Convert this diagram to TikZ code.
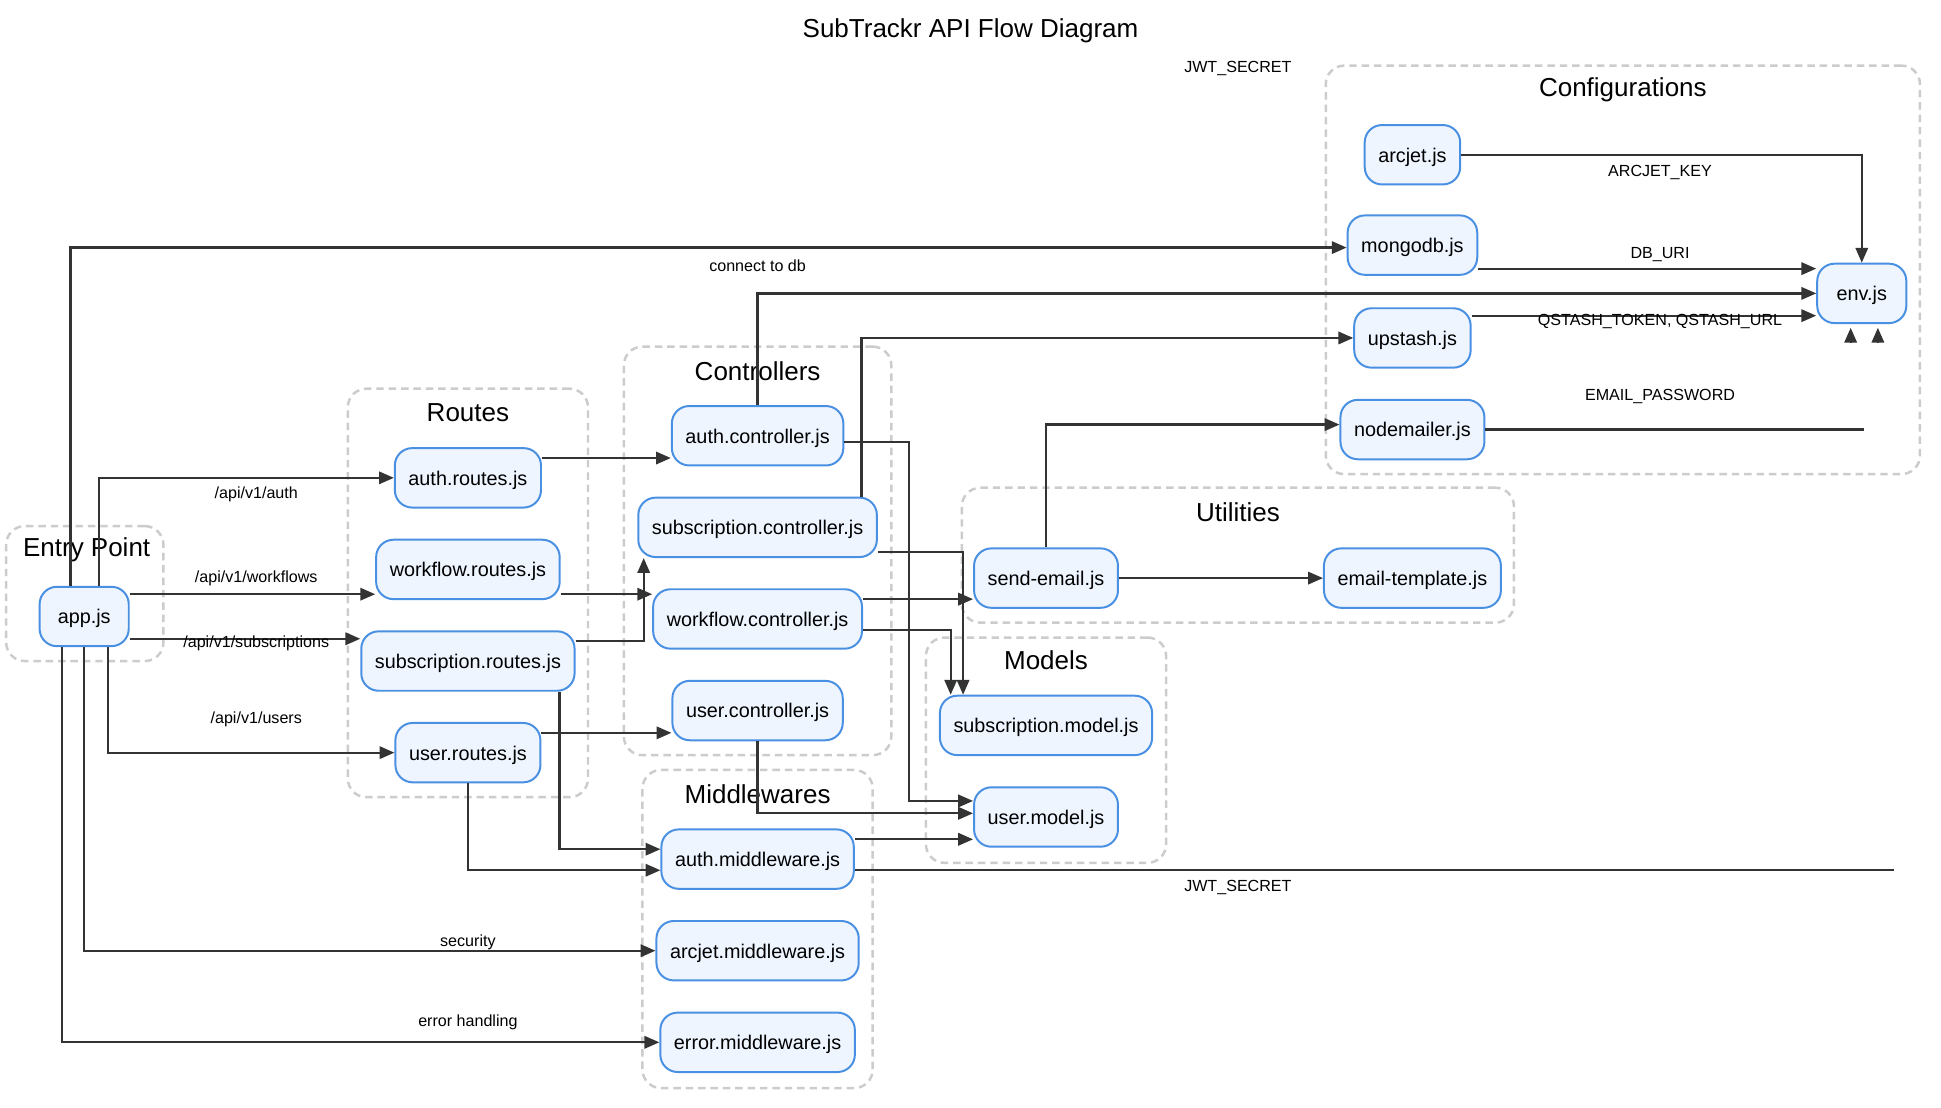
\documentclass[tikz,border=0pt]{standalone}
\usepackage{fontspec}
\setmainfont{Liberation Sans}
\usetikzlibrary{arrows.meta}
\definecolor{nodefill}{HTML}{EEF5FF}
\definecolor{nodeline}{HTML}{4A90E2}
\definecolor{edgecol}{HTML}{333333}
\definecolor{clustercol}{HTML}{CCCCCC}
\begin{document}
\begin{tikzpicture}[x=1pt,y=-1pt,
  box/.style={draw=nodeline, line width=1.6pt, fill=nodefill, rounded corners=14pt, minimum height=48pt, inner xsep=11pt, inner ysep=0pt, text height=13pt, text depth=1pt, font=\fontsize{16}{19}\selectfont, text=black},
  cluster/.style={draw=clustercol, line width=2pt, dash pattern=on 6pt off 4pt, rounded corners=15pt, inner sep=0pt},
  ctitle/.style={font=\fontsize{21}{25}\selectfont, inner sep=0pt, text=black, yshift=-2.5pt},
  elabel/.style={font=\fontsize{13}{15}\selectfont, inner sep=0pt, text=black, yshift=-2pt},
  edge/.style={draw=edgecol, line width=1.8pt, -{Triangle[length=12pt,width=10pt]}},
  plain/.style={draw=edgecol, line width=1.8pt},
]
\useasboundingbox[fill=white] (0,0) rectangle (1568,895);

% title
\node[ctitle] (title) at (784,22) {SubTrackr API Flow Diagram};

% clusters
\node[cluster, minimum width=127pt, minimum height=109pt] (cEntry) at (68.5,479.5) {};
\node[cluster, minimum width=194pt, minimum height=330pt] (cRoutes) at (378,479) {};
\node[cluster, minimum width=216pt, minimum height=330pt] (cCtrl) at (612,445) {};
\node[cluster, minimum width=186pt, minimum height=257pt] (cMw) at (612,750.5) {};
\node[cluster, minimum width=194pt, minimum height=182pt] (cModels) at (845,606) {};
\node[cluster, minimum width=446pt, minimum height=109pt] (cUtil) at (1000,448.5) {};
\node[cluster, minimum width=480pt, minimum height=330pt] (cConf) at (1311,218) {};

\node[ctitle] (tEntry) at (70,442) {Entry Point};
\node[ctitle] (tRoutes) at (378,331) {Routes};
\node[ctitle] (tCtrl) at (612,297) {Controllers};
\node[ctitle] (tMw) at (612,639) {Middlewares};
\node[ctitle] (tModels) at (845,531) {Models};
\node[ctitle] (tUtil) at (1000,411) {Utilities};
\node[ctitle] (tConf) at (1311,70) {Configurations};

% nodes
\node[box, minimum width=72pt] (app) at (68,498) {app.js};
\node[box] (aroutes) at (378,386) {auth.routes.js};
\node[box] (wroutes) at (378,460) {workflow.routes.js};
\node[box] (sroutes) at (378,534) {subscription.routes.js};
\node[box] (uroutes) at (378,608) {user.routes.js};
\node[box] (actrl) at (612,352) {auth.controller.js};
\node[box] (sctrl) at (612,426) {subscription.controller.js};
\node[box] (wctrl) at (612,500) {workflow.controller.js};
\node[box] (uctrl) at (612,574) {user.controller.js};
\node[box] (amw) at (612,694) {auth.middleware.js};
\node[box] (armw) at (612,768) {arcjet.middleware.js};
\node[box] (emw) at (612,842) {error.middleware.js};
\node[box] (smodel) at (845,586) {subscription.model.js};
\node[box] (umodel) at (845,660) {user.model.js};
\node[box] (semail) at (845,467) {send-email.js};
\node[box] (etpl) at (1141,467) {email-template.js};
\node[box] (arcjet) at (1141,125) {arcjet.js};
\node[box] (mongo) at (1141,198) {mongodb.js};
\node[box] (upstash) at (1141,273) {upstash.js};
\node[box] (nodemailer) at (1141,347) {nodemailer.js};
\node[box, minimum width=72pt] (env) at (1504,237) {env.js};

% edges from app.js
\draw[edge] ([xshift=12pt]app.north) |- (aroutes.west);
\draw[edge] ([xshift=-11pt]app.north) |- ([yshift=-2pt]mongo.west);
\draw[edge] ([yshift=18pt]app.east) -- ([yshift=-20pt]wroutes.west);
\draw[edge] ([yshift=-18pt]app.east) -- ([yshift=18pt]sroutes.west);
\draw[edge] ([xshift=19pt]app.south) |- (uroutes.west);
\draw[edge] (app.south) |- (armw.west);
\draw[edge] ([xshift=-18pt]app.south) |- (emw.west);

% routes to controllers / middleware
\draw[edge] ([yshift=16pt]aroutes.east) -- ([yshift=-18pt]actrl.west);
\draw[edge] ([yshift=-20pt]wroutes.east) -- ([yshift=20pt]wctrl.west);
\draw[edge] ([yshift=16pt]sroutes.east) -| ([xshift=-92pt]sctrl.south);
\draw[edge] ([xshift=74pt]sroutes.south) |- ([yshift=8pt]amw.west);
\draw[edge] ([yshift=16pt]uroutes.east) -- ([yshift=-18pt]uctrl.west);
\draw[edge] (uroutes.south) |- ([yshift=-9pt]amw.west);

% controllers
\draw[edge] (actrl.north) |- (env.west);
\draw[edge] ([yshift=-5pt]actrl.east) -- (734,357) |- ([yshift=13pt]umodel.west);
\draw[edge] ([xshift=84pt]sctrl.north) |- (upstash.west);
\draw[edge] ([yshift=-20pt]sctrl.east) -| ([xshift=-67pt]smodel.north);
\draw[edge] ([yshift=16pt]wctrl.east) -- ([yshift=-17pt]semail.west);
\draw[edge] ([yshift=-9pt]wctrl.east) -| ([xshift=-77pt]smodel.north);
\draw[edge] (uctrl.south) |- ([yshift=3pt]umodel.west);

% middleware
\draw[edge] ([yshift=16pt]amw.east) -- ([yshift=-18pt]umodel.west);
\coordinate (amwEnd) at (1530,703);
\draw[plain] ([yshift=-9pt]amw.east) -- (amwEnd);

% utilities
\draw[edge] (semail.north) |- ([yshift=4pt]nodemailer.west);
\draw[edge] (semail.east) -- (etpl.west);

% configurations
\draw[edge] (arcjet.east) -| (env.north);
\draw[edge] ([yshift=-19pt]mongo.east) -- ([yshift=20pt]env.west);
\draw[edge] ([yshift=18pt]upstash.east) -- ([yshift=-18pt]env.west);
\coordinate (nmEnd) at (1506,347);
\draw[plain] (nodemailer.east) -- (nmEnd);

% detached arrowheads under env.js
\coordinate (envTail1) at (1495,277);
\coordinate (envTail2) at (1517,277);
\draw[edge] (envTail1) -- ([xshift=-9pt,yshift=-3pt]env.south);
\draw[edge] (envTail2) -- ([xshift=13pt,yshift=-3pt]env.south);

% edge labels
\node[elabel] (l1) at (207,397) {/api/v1/auth};
\node[elabel] (l2) at (207,465) {/api/v1/workflows};
\node[elabel] (l3) at (207,518) {/api/v1/subscriptions};
\node[elabel] (l4) at (207,579) {/api/v1/users};
\node[elabel] (l5) at (378,759) {security};
\node[elabel] (l6) at (378,824) {error handling};
\node[elabel] (l7) at (612,213) {connect to db};
\node[elabel] (l8) at (1000,53) {JWT\_SECRET};
\node[elabel] (l9) at (1341,137) {ARCJET\_KEY};
\node[elabel] (l10) at (1341,204) {DB\_URI};
\node[elabel] (l11) at (1341,258) {QSTASH\_TOKEN, QSTASH\_URL};
\node[elabel] (l12) at (1341,318) {EMAIL\_PASSWORD};
\node[elabel] (l13) at (1000,715) {JWT\_SECRET};
\end{tikzpicture}
\end{document}
